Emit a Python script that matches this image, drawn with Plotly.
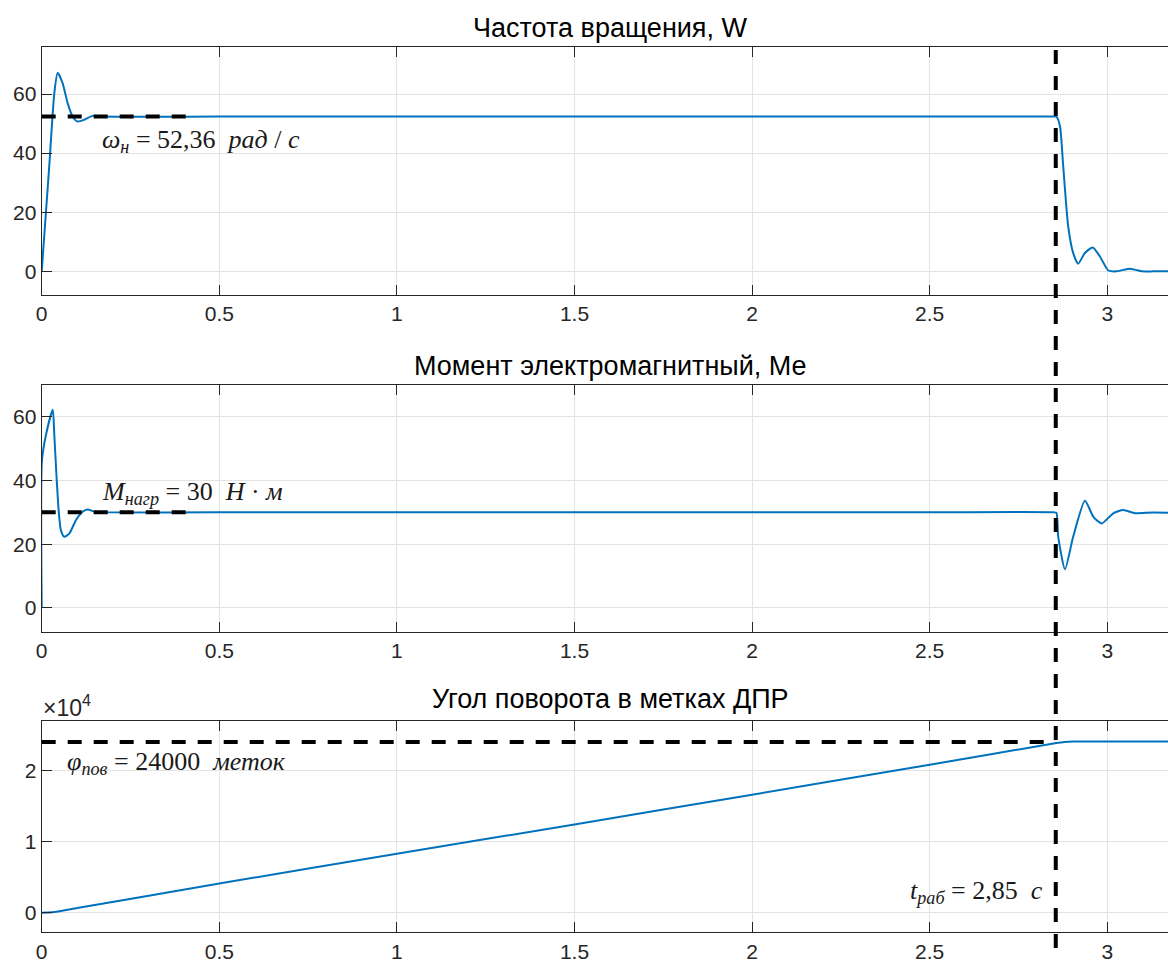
import plotly.graph_objects as go
from plotly.subplots import make_subplots

# ---------------- data ----------------
t_speed = [0.0, 0.0215, 0.0355, 0.045, 0.059, 0.073, 0.087, 0.101, 0.12, 0.1435, 0.17, 0.5, 1.0, 1.5, 2.0, 2.5, 2.845, 2.857,
           2.867, 2.876, 2.89, 2.904, 2.918, 2.937, 2.959, 2.979, 3.003, 3.026, 3.045, 3.064, 3.08, 3.097, 3.13, 3.171]
w_speed = [0.0, 36.0, 60.3, 67.2, 63.6, 56.9, 52.4, 50.7, 51.3, 52.6, 52.36, 52.36, 52.36, 52.36, 52.36, 52.36, 52.36, 52.3,
           49.0, 35.5, 15.2, 6.2, 2.6, 6.2, 8.1, 5.1, 0.3, 0.0, 0.5, 0.9, 0.5, 0.0, 0.0, 0.0]

t_torque = [0.0, 0.0005, 0.012, 0.031, 0.0355, 0.042, 0.048, 0.054, 0.0637, 0.078, 0.0966, 0.115, 0.1295, 0.148, 0.175, 0.5, 1.0,
            1.5, 2.0, 2.5, 2.85, 2.857, 2.862, 2.881, 2.904, 2.937, 2.961, 2.984, 3.017, 3.045, 3.078, 3.11, 3.171]
m_torque = [0.0, 46.0, 54.3, 62.2, 54.3, 40.7, 30.2, 24.4, 22.3, 23.4, 27.6, 30.2, 30.9, 30.2, 30.0, 30.0, 30.0,
            30.0, 30.0, 30.0, 30.0, 29.8, 22.3, 12.1, 22.3, 33.6, 28.6, 26.5, 29.7, 30.7, 29.7, 29.9, 29.9]

t_angle = [0.0, 0.03, 0.1, 0.5, 1.0, 1.5, 2.0, 2.5, 2.857, 2.88, 2.904, 2.95, 3.171]
phi_angle = [0.0, 50, 650, 4100, 8300, 12400, 16600, 20800, 23860, 24000, 24060, 24070, 24070]

x_ticks = [0, 0.5, 1, 1.5, 2, 2.5, 3]
x_tick_text = ["0", "0.5", "1", "1.5", "2", "2.5", "3"]
y1_ticks = [0, 20, 40, 60]
y2_ticks = [0, 20, 40, 60]
y3_ticks = [0, 10000, 20000]
y3_tick_text = ["0", "1", "2"]

titles = ["Частота вращения, W", "Момент электромагнитный, Ме", "Угол поворота в метках ДПР"]

W_NOM = 52.36
M_LOAD = 30
PHI_TURN = 24000
T_WORK = 2.855

# ---------------- figure ----------------
W, H = 1168, 962
BLUE = "#0072BD"
AX = "#262626"
GRID = "#e3e3e3"

fig = make_subplots(rows=3, cols=1)

fig.add_trace(go.Scatter(x=t_speed, y=w_speed, mode="lines",
                         line=dict(color=BLUE, width=2, shape="spline", smoothing=0.6),
                         showlegend=False, hoverinfo="skip"), row=1, col=1)
fig.add_trace(go.Scatter(x=t_torque, y=m_torque, mode="lines",
                         line=dict(color=BLUE, width=2, shape="spline", smoothing=0.6),
                         showlegend=False, hoverinfo="skip"), row=2, col=1)
fig.add_trace(go.Scatter(x=t_angle, y=phi_angle, mode="lines",
                         line=dict(color=BLUE, width=2, shape="spline", smoothing=0.5),
                         showlegend=False, hoverinfo="skip"), row=3, col=1)


def py(p):
    return 1 - p / H


x_dom = [41.7 / W, 1.0]
x_range = [0, 3.171]
domains = [[py(295), py(46.7)], [py(631.7), py(385)], [py(932.3), py(720.7)]]
y_ranges = [[-8, 76], [-7.5, 70], [-2760, 27000]]

font_ax = dict(family="Liberation Sans, Arial, sans-serif", size=21, color=AX)

for i in range(3):
    xa = "xaxis" if i == 0 else f"xaxis{i+1}"
    ya = "yaxis" if i == 0 else f"yaxis{i+1}"
    fig.layout[xa].update(domain=x_dom, range=x_range, tickvals=x_ticks, ticktext=x_tick_text,
                          showgrid=True, gridcolor=GRID, gridwidth=1, zeroline=False,
                          showline=True, linecolor=AX, linewidth=1.2, mirror="ticks",
                          ticks="inside", ticklen=10, tickcolor=AX, tickwidth=1.2,
                          tickfont=font_ax, automargin=False, fixedrange=True)
    yt = [y1_ticks, y2_ticks, y3_ticks][i]
    ytt = [None, None, y3_tick_text][i]
    fig.layout[ya].update(domain=domains[i], range=y_ranges[i], tickvals=yt,
                          showgrid=True, gridcolor=GRID, gridwidth=1, zeroline=False,
                          showline=True, linecolor=AX, linewidth=1.2, mirror=False,
                          ticks="inside", ticklen=10, tickcolor=AX, tickwidth=1.2,
                          tickfont=font_ax, automargin=False, fixedrange=True)
    if ytt:
        fig.layout[ya].ticktext = ytt

# dashed reference lines
dash = "14px,12px"
fig.add_shape(type="line", xref="x", yref="y", x0=0, x1=0.43, y0=W_NOM, y1=W_NOM,
              line=dict(color="black", width=4, dash=dash), layer="above")
fig.add_shape(type="line", xref="x2", yref="y2", x0=0, x1=0.43, y0=M_LOAD, y1=M_LOAD,
              line=dict(color="black", width=4, dash=dash), layer="above")
fig.add_shape(type="line", xref="x3", yref="y3", x0=0, x1=T_WORK, y0=PHI_TURN, y1=PHI_TURN,
              line=dict(color="black", width=4, dash=dash), layer="above")
fig.add_shape(type="line", xref="x", yref="paper", x0=T_WORK, x1=T_WORK, y0=py(948), y1=py(47),
              line=dict(color="black", width=4, dash=dash), layer="above")

# titles
title_font = dict(family="Liberation Sans, Arial, sans-serif", size=27, color="black")
for txt, ypix in zip(titles, [28, 366, 699]):
    fig.add_annotation(text=txt, xref="paper", yref="paper", x=610 / W, y=py(ypix),
                       xanchor="center", yanchor="middle", showarrow=False, font=title_font)

# exponent label
fig.add_annotation(text="×10<sup>4</sup>", xref="paper", yref="paper", x=41 / W, y=py(706),
                   xanchor="left", yanchor="middle", showarrow=False,
                   font=dict(family="Liberation Sans, Arial, sans-serif", size=23, color=AX))

# formula annotations
ann_font = dict(family="Liberation Serif, Times New Roman, serif", size=26, color="#1a1a1a")
sp = "\u00a0"
fig.add_annotation(text=f"<i>ω</i><sub><i>н</i></sub>{sp}={sp}52,36{sp}{sp}<i>рад</i>{sp}/{sp}<i>с</i>",
                   xref="x", yref="y", x=0.164, y=44.0, xanchor="left", yanchor="middle",
                   showarrow=False, font=ann_font)
fig.add_annotation(text=f"<i>M</i><sub><i>нагр</i></sub>{sp}={sp}30{sp}{sp}<i>Н</i>{sp}·{sp}<i>м</i>",
                   xref="x2", yref="y2", x=0.164, y=36.0, xanchor="left", yanchor="middle",
                   showarrow=False, font=ann_font)
fig.add_annotation(text=f"<i>φ</i><sub><i>пов</i></sub>{sp}={sp}24000{sp}{sp}<i>меток</i>",
                   xref="x3", yref="y3", x=0.066, y=21100, xanchor="left", yanchor="middle",
                   showarrow=False, font=ann_font)
fig.add_annotation(text=f"<i>t</i><sub><i>раб</i></sub>{sp}={sp}2,85{sp}{sp}<i>с</i>",
                   xref="x3", yref="y3", x=2.825, y=2900, xanchor="right", yanchor="middle",
                   showarrow=False, font=ann_font)

fig.update_layout(width=W, height=H, margin=dict(l=0, r=0, t=0, b=0),
                  paper_bgcolor="white", plot_bgcolor="white", showlegend=False)

fig.write_html("out.html", config={"displayModeBar": False})
